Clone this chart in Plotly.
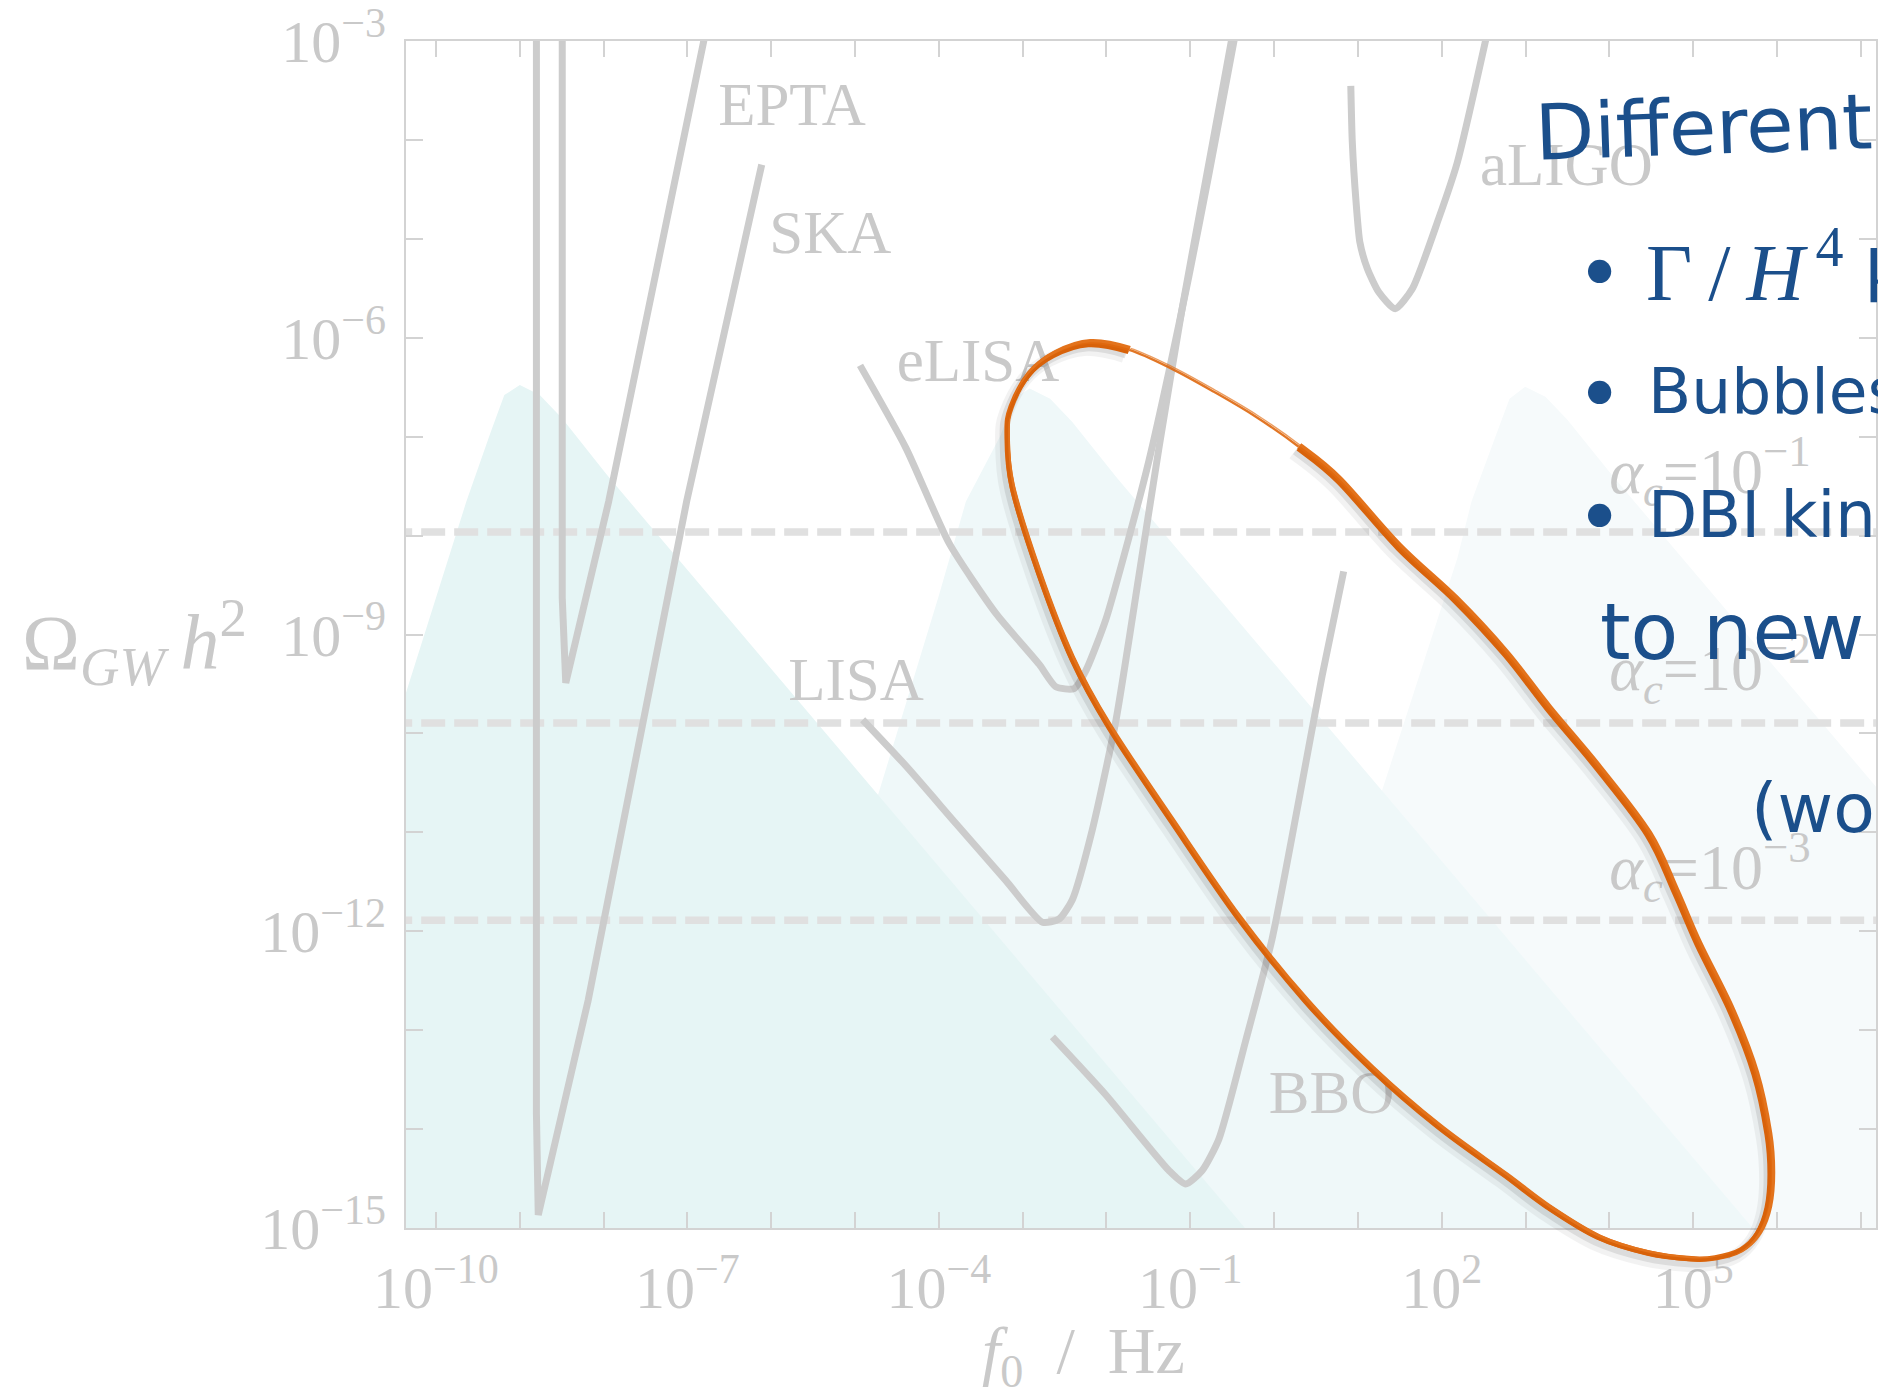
import numpy as np
import plotly.graph_objects as go

# ---------------- figure geometry ----------------
WIDTH, HEIGHT = 1878, 1399
MARGIN = dict(l=406, r=0, t=38, b=171)
PLOT_W = WIDTH - MARGIN["l"] - MARGIN["r"]
PLOT_H = HEIGHT - MARGIN["t"] - MARGIN["b"]

# axis ranges in log10 units
LOG_F_RANGE = [-10.357, 7.181]
LOG_OMEGA_RANGE = [-15.001, -2.999]
LOG_FLOOR = -16.0  # spectra are closed below the visible range

# ---------------- detector sensitivity curves ----------------
# log10(f0 / Hz) and log10(Omega_GW h^2)
ska_logf = [-8.801, -8.801, -8.779, -8.184, -7.009, -6.113]
ska_logom = [-2.5, -13.84, -14.869, -12.70, -7.656, -4.249]

epta_logf = [-8.493, -8.493, -8.451, -8.284, -7.939, -6.683]
epta_logom = [-2.5, -8.631, -9.489, -8.897, -7.656, -2.5]

elisa_logf = [-4.940, -4.392, -3.876, -3.319, -2.804, -2.605, -2.387, -2.247,
              -2.009, -1.731, -1.493, -1.255, -1.016, -0.778, -0.564, -0.368]
elisa_logom = [-6.279, -7.115, -8.079, -8.786, -9.300, -9.528, -9.547, -9.367,
               -8.852, -8.016, -7.242, -6.344, -5.376, -4.347, -3.383, -2.500]

lisa_logf = [-4.909, -4.392, -3.796, -3.200, -2.764, -2.565, -2.407, -2.169,
             -1.890, -1.612, -1.374, -1.096, -0.817, -0.579, -0.404]
lisa_logom = [-9.862, -10.329, -10.911, -11.489, -11.909, -11.877, -11.681, -10.975,
              -9.882, -8.402, -7.115, -5.699, -4.413, -3.318, -2.511]

bbo_logf = [-2.645, -2.009, -1.255, -1.056, -0.858, -0.659, -0.341, -0.024, 0.294, 0.572, 0.830]
bbo_logom = [-13.069, -13.654, -14.420, -14.556, -14.420, -14.102, -13.114, -12.078, -10.682, -9.421, -8.362]

aligo_logf = [0.915, 0.933, 0.978, 1.023, 1.113, 1.248, 1.444, 1.649, 1.962, 2.186, 2.600]
aligo_logom = [-3.452, -4.024, -4.629, -5.033, -5.302, -5.537, -5.706, -5.504, -4.798, -4.226, -2.700]

detector_names = ["EPTA", "SKA", "eLISA", "LISA", "BBO", "aLIGO"]
detector_label_logf = [-6.633, -6.022, -4.503, -5.798, -0.063, 2.456]
detector_label_logom = [-3.693, -4.987, -6.280, -9.507, -13.684, -4.298]

# ---------------- phase-transition spectra (shaded) ----------------
spec1_logf = [-10.6, -10.357, -9.637, -9.345, -9.184, -8.999, -8.761, -8.493, -7.963, 0.651]
spec1_logom = [-10.24, -9.590, -7.656, -6.950, -6.579, -6.478, -6.579, -6.815, -7.383, -16.0]

spec2_logf = [-6.717, -4.710, -3.995, -3.677, -3.261, -3.101, -2.916, -2.672, -2.410, -1.874, 6.708]
spec2_logom = [-16.0, -10.581, -8.594, -7.656, -6.984, -6.614, -6.513, -6.617, -6.849, -7.418, -16.0]

spec3_logf = [-0.720, 1.287, 2.186, 2.355, 2.649, 2.809, 2.995, 3.237, 3.499, 4.035, 12.642]
spec3_logom = [-16.0, -10.581, -8.228, -7.656, -6.980, -6.617, -6.496, -6.597, -6.829, -7.393, -16.0]

spectrum_colors = ["#e6f5f5", "#eff8f9", "#f6fafb"]

# ---------------- alpha_c reference levels ----------------
alpha_level_logom = [-7.964, -9.895, -11.889]
alpha_exponents = ["−1", "−2", "−3"]
alpha_label_logf = 4.0
alpha_label_logom = [-7.407, -9.403, -11.410]

# ---------------- highlighted region (hand-drawn ring) ----------------
ring_logf = [-3.185, -3.137, -2.923, -2.625, -2.208, -1.731, -1.219, -0.718, -0.218, 0.294,
             0.771, 1.486, 2.165, 2.761, 3.273, 3.869, 4.464, 4.786, 5.060, 5.453,
             5.739, 5.894, 5.930, 5.894, 5.775, 5.572, 5.263, 4.977, 4.464, 3.869,
             3.273, 2.761, 1.962, 1.164, 0.378, -0.421, -1.219, -1.970, -2.410, -2.804,
             -3.125]
ring_logom = [-6.970, -6.697, -6.364, -6.163, -6.052, -6.122, -6.314, -6.546, -6.798, -7.101,
              -7.434, -8.110, -8.644, -9.189, -9.744, -10.349, -11.015, -11.590, -12.125, -12.801,
              -13.436, -14.042, -14.445, -14.788, -15.051, -15.222, -15.303, -15.313, -15.253, -15.091,
              -14.788, -14.465, -13.971, -13.386, -12.700, -11.863, -10.884, -9.926, -9.240, -8.382,
              -7.504]

# ---------------- tick labels ----------------
x_tick_exps = list(range(-10, 8))
x_labelled = [-10, -7, -4, -1, 2, 5]
y_tick_exps = list(range(-15, -2))
y_labelled = [-15, -12, -9, -6, -3]

# ---------------- styles ----------------
SERIF = "Liberation Serif"
HAND = "DejaVu Sans"
CURVE_GRAY = "#cccccc"
TEXT_GRAY = "#c9c9c9"
AXIS_GRAY = "#d3d3d3"
DASH_GRAY = "#e0e0e0"
INK_BLUE = "#1b4f8b"
RING_ORANGE = "#df680e"


def pow10(v):
    return np.power(10.0, np.asarray(v, dtype=float))


def exp_label(k):
    s = str(k).replace("-", "−")
    return f"10<sup>{s}</sup>"


fig = go.Figure()

# shaded spectra: later ones sit underneath earlier ones
for logf, logom, color in [(spec3_logf, spec3_logom, spectrum_colors[2]),
                           (spec2_logf, spec2_logom, spectrum_colors[1]),
                           (spec1_logf, spec1_logom, spectrum_colors[0])]:
    xs = list(logf) + [logf[0]]
    ys = list(logom) + [LOG_FLOOR]
    fig.add_trace(go.Scatter(x=pow10(xs), y=pow10(ys), mode="lines", fill="toself",
                             fillcolor=color, line=dict(width=0, color=color),
                             hoverinfo="skip", showlegend=False))

# dashed alpha_c levels
for lvl in alpha_level_logom:
    fig.add_trace(go.Scatter(x=pow10([LOG_F_RANGE[0] - 1, LOG_F_RANGE[1] + 1]), y=pow10([lvl, lvl]),
                             mode="lines", line=dict(color=DASH_GRAY, width=7.5, dash="24px,9px"),
                             hoverinfo="skip", showlegend=False))

# sensitivity curves: pulsar-timing ones have sharp corners, interferometers are smooth
for logf, logom, shape in [(ska_logf, ska_logom, "linear"), (epta_logf, epta_logom, "linear"),
                           (elisa_logf, elisa_logom, "spline"), (lisa_logf, lisa_logom, "spline"),
                           (bbo_logf, bbo_logom, "spline"), (aligo_logf, aligo_logom, "spline")]:
    fig.add_trace(go.Scatter(x=pow10(logf), y=pow10(logom), mode="lines",
                             line=dict(color=CURVE_GRAY, width=7, shape=shape, smoothing=0.6),
                             hoverinfo="skip", showlegend=False))

# detector names
fig.add_trace(go.Scatter(x=pow10(detector_label_logf), y=pow10(detector_label_logom), mode="text",
                         text=detector_names, textposition="middle right",
                         textfont=dict(family=SERIF, size=61, color=TEXT_GRAY),
                         hoverinfo="skip", showlegend=False))

# alpha_c labels
fig.add_trace(go.Scatter(x=pow10([alpha_label_logf] * 3), y=pow10(alpha_label_logom), mode="text",
                         text=[f"<i>α</i><sub><i>c</i></sub>=10<sup>{e}</sup>" for e in alpha_exponents],
                         textposition="middle right",
                         textfont=dict(family=SERIF, size=64, color=TEXT_GRAY),
                         hoverinfo="skip", showlegend=False))

axis_common = dict(type="log", showgrid=False, zeroline=False, showline=True,
                   linecolor=AXIS_GRAY, linewidth=2, mirror="ticks", ticks="inside",
                   tickcolor=AXIS_GRAY, tickwidth=1.5, ticklabeloverflow="allow",
                   tickfont=dict(family=SERIF, size=60, color=TEXT_GRAY))

fig.update_xaxes(range=LOG_F_RANGE,
                 tickvals=pow10(x_tick_exps),
                 ticktext=[exp_label(k) if k in x_labelled else "" for k in x_tick_exps],
                 ticklen=16, ticklabelstandoff=6, **axis_common)
fig.update_yaxes(range=LOG_OMEGA_RANGE,
                 tickvals=pow10(y_tick_exps),
                 ticktext=[exp_label(k) if k in y_labelled else "" for k in y_tick_exps],
                 ticklen=17, ticklabelstandoff=6, **axis_common)


# ---------------- hand-drawn ring around the target region ----------------
def to_paper(logf, logom):
    px = (np.asarray(logf) - LOG_F_RANGE[0]) / (LOG_F_RANGE[1] - LOG_F_RANGE[0])
    py = (np.asarray(logom) - LOG_OMEGA_RANGE[0]) / (LOG_OMEGA_RANGE[1] - LOG_OMEGA_RANGE[0])
    return px, py


ring_px, ring_py = to_paper(ring_logf, ring_logom)


def ring_path(start, stop, dx=0.0, dy=0.0, grow=0.0):
    """Closed Catmull-Rom spline through the ring points, from index start to stop."""
    pts = np.column_stack([ring_px, ring_py])
    c = pts.mean(axis=0)
    pts = c + (pts - c) * (1 + grow)
    pts = pts + np.array([dx / PLOT_W, -dy / PLOT_H])
    n = len(pts)
    p = pts[start % n]
    d = f"M{p[0]:.5f},{p[1]:.5f}"
    i = start % n
    while i != stop % n:
        p0, p1, p2, p3 = pts[(i - 1) % n], pts[i], pts[(i + 1) % n], pts[(i + 2) % n]
        c1 = p1 + (p2 - p0) / 6.0
        c2 = p2 - (p3 - p1) / 6.0
        d += f" C{c1[0]:.5f},{c1[1]:.5f} {c2[0]:.5f},{c2[1]:.5f} {p2[0]:.5f},{p2[1]:.5f}"
        i = (i + 1) % n
    return d


def stroke(path, color, width, opacity=1.0):
    fig.add_shape(type="path", path=path, xref="paper", yref="paper", layer="above",
                  line=dict(color=color, width=width), fillcolor="rgba(0,0,0,0)", opacity=opacity)


SOLID_FROM, SOLID_TO = 9, 5   # thick part of the stroke
# soft shadow
stroke(ring_path(SOLID_FROM, SOLID_TO, dx=-5, dy=6), "#303030", 14, 0.06)
stroke(ring_path(SOLID_FROM, SOLID_TO, dx=-3, dy=4), "#303030", 9, 0.11)
# overlapping pen strokes
stroke(ring_path(SOLID_FROM, SOLID_TO), RING_ORANGE, 5.5)
stroke(ring_path(SOLID_FROM, SOLID_TO, dx=1.8, dy=-1.4, grow=0.002), "#e3731c", 3.2)
stroke(ring_path(SOLID_FROM, SOLID_TO, dx=-1.4, dy=1.8, grow=-0.002), "#d8620a", 3.2)
# dry-brush stretch along the upper arc
stroke(ring_path(SOLID_TO, SOLID_FROM), RING_ORANGE, 2.4, 0.9)
stroke(ring_path(SOLID_TO, SOLID_FROM, dx=1.5, dy=-1.5), "#e3731c", 1.3, 0.7)


# ---------------- text laid out in page pixels ----------------
def page(X, Y):
    return (X - MARGIN["l"]) / PLOT_W, (HEIGHT - MARGIN["b"] - Y) / PLOT_H


def note(text, X, Y, family, size, color, xanchor="left", angle=0):
    px, py = page(X, Y)
    fig.add_annotation(text=text, x=px, y=py, xref="paper", yref="paper", showarrow=False,
                       xanchor=xanchor, yanchor="middle", textangle=angle,
                       font=dict(family=family, size=size, color=color))


# axis titles
note("Ω<sub><i>GW</i></sub>\u2009<i>h</i><sup>2</sup>", 134, 641, SERIF, 78, TEXT_GRAY, xanchor="center")
note("<i>f</i><sub>0</sub>\u2002/\u2002Hz", 1084, 1356, SERIF, 66, TEXT_GRAY, xanchor="center")

# handwritten slide notes
note("Different", 1533, 125, HAND, 77, INK_BLUE, angle=-2)
for yb in (271, 392, 516):
    note("•", 1601, yb, HAND, 80, INK_BLUE, xanchor="center")
note("Γ\u2009/\u2009<i>H</i><sup>\u20094</sup>", 1646, 264, SERIF, 80, INK_BLUE)
note("k", 1864, 275, HAND, 72, INK_BLUE)
note("Bubbles", 1648, 389, HAND, 63, INK_BLUE)
note("DBI kin", 1648, 513, HAND, 64, INK_BLUE)
note("to new", 1600, 630, HAND, 78, INK_BLUE)
note("(wo", 1751, 807, HAND, 68, INK_BLUE)

fig.update_layout(width=WIDTH, height=HEIGHT, margin=MARGIN,
                  paper_bgcolor="white", plot_bgcolor="white",
                  showlegend=False, hovermode=False)

fig.write_html("out.html")
